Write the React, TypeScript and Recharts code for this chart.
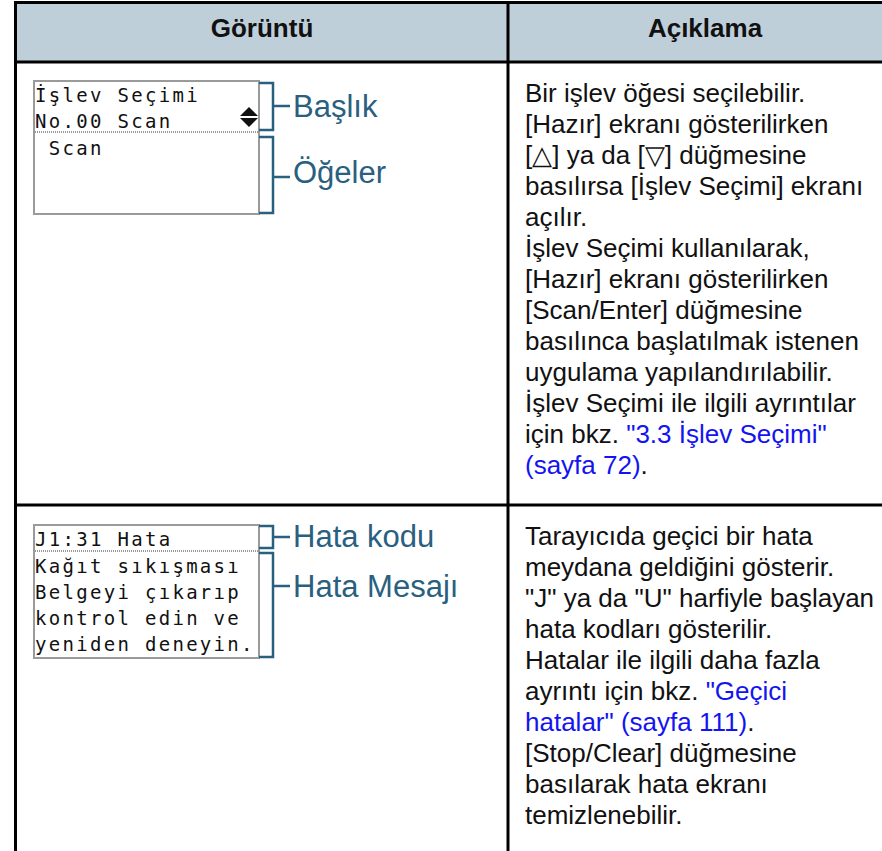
import { ComposedChart, Customized } from 'recharts'

// Başlık satırı ve iki tablo satırının içerikleri
const headerLabels = ['Görüntü', 'Açıklama']

const screenFunction = ['İşlev Seçimi', 'No.00 Scan', ' Scan']
const calloutsFunction = ['Başlık', 'Öğeler']

const screenError = ['J1:31 Hata', 'Kağıt sıkışması', 'Belgeyi çıkarıp', 'kontrol edin ve', 'yeniden deneyin.']
const calloutsError = ['Hata kodu', 'Hata Mesajı']

// {…} içindeki parçalar bağlantı (mavi) olarak çizilir
const descFunction = [
  'Bir işlev öğesi seçilebilir.',
  '[Hazır] ekranı gösterilirken',
  '[△] ya da [▽] düğmesine',
  'basılırsa [İşlev Seçimi] ekranı',
  'açılır.',
  'İşlev Seçimi kullanılarak,',
  '[Hazır] ekranı gösterilirken',
  '[Scan/Enter] düğmesine',
  'basılınca başlatılmak istenen',
  'uygulama yapılandırılabilir.',
  'İşlev Seçimi ile ilgili ayrıntılar',
  'için bkz. {"3.3 İşlev Seçimi"}',
  '{(sayfa 72)}.',
]

const descError = [
  'Tarayıcıda geçici bir hata',
  'meydana geldiğini gösterir.',
  '"J" ya da "U" harfiyle başlayan',
  'hata kodları gösterilir.',
  'Hatalar ile ilgili daha fazla',
  'ayrıntı için bkz. {"Geçici}',
  '{hatalar" (sayfa 111)}.',
  '[Stop/Clear] düğmesine',
  'basılarak hata ekranı',
  'temizlenebilir.',
]

const W = 882
const H = 851
const SANS = '"Liberation Sans", Arial, sans-serif'
const MONO = '"DejaVu Sans Mono", "Liberation Mono", monospace'
const CALLOUT = '#29607F'
const LINK = '#1414F0'

const COL_X = 508
const TEXT_X = 525
const LINE_H = 31

function splitLinks(line: string) {
  const parts: { text: string; link: boolean }[] = []
  const re = /\{([^}]*)\}/g
  let last = 0
  let m: RegExpExecArray | null
  while ((m = re.exec(line))) {
    if (m.index > last) parts.push({ text: line.slice(last, m.index), link: false })
    parts.push({ text: m[1], link: true })
    last = m.index + m[0].length
  }
  if (last < line.length) parts.push({ text: line.slice(last), link: false })
  return parts
}

function Description({ lines, top }: { lines: string[]; top: number }) {
  return (
    <g>
      {lines.map((line, i) => (
        <text
          key={i}
          x={TEXT_X}
          y={top + i * LINE_H}
          fontFamily={SANS}
          fontSize={26}
          fill="#111"
          style={{ whiteSpace: 'pre' }}
        >
          {splitLinks(line).map((p, j) => (
            <tspan key={j} fill={p.link ? LINK : undefined}>
              {p.text}
            </tspan>
          ))}
        </text>
      ))}
    </g>
  )
}

interface Bracket {
  top: number
  bottom: number
  tick: number
  baseline: number
}

function Screen({
  lines,
  baselines,
  boxTop,
  dotY,
  labels,
  brackets,
  arrows,
}: {
  lines: string[]
  baselines: number[]
  boxTop: number
  dotY: number
  labels: string[]
  brackets: Bracket[]
  arrows?: boolean
}) {
  const left = 34
  const right = 259
  return (
    <g>
      <rect x={left} y={boxTop} width={right - left} height={133} fill="#fff" stroke="#9a9a9a" strokeWidth={2} />
      <line x1={left + 1} x2={right - 1} y1={dotY} y2={dotY} stroke="#333" strokeWidth={1.2} strokeDasharray="1 1" />
      {lines.map((l, i) => (
        <text
          key={i}
          x={35}
          y={baselines[i]}
          fontFamily={MONO}
          fontSize={19}
          letterSpacing={2.3}
          fill="#111"
          style={{ whiteSpace: 'pre' }}
        >
          {l}
        </text>
      ))}
      {arrows && (
        <g fill="#111">
          <path d="M240 116 L249 107 L258 116 Z" />
          <path d="M240 118 L249 127 L258 118 Z" />
        </g>
      )}
      {brackets.map((b, i) => (
        <g key={i}>
          <path
            d={`M${right} ${b.top} H273 V${b.bottom} H${right}`}
            fill="none"
            stroke={CALLOUT}
            strokeWidth={2.5}
          />
          <line x1={273} x2={290} y1={b.tick} y2={b.tick} stroke={CALLOUT} strokeWidth={2.5} />
          <text x={293} y={b.baseline} fontFamily={SANS} fontSize={31} fill={CALLOUT}>
            {labels[i]}
          </text>
        </g>
      ))}
    </g>
  )
}

function TableLayer() {
  return (
    <g>
      <rect x={0} y={0} width={W} height={H} fill="#fff" />
      <rect x={15.5} y={2.5} width={900} height={62 - 2.5} fill="#BFCFD9" />
      {headerLabels.map((h, i) => (
        <text
          key={h}
          x={i === 0 ? 262 : 705}
          y={37}
          textAnchor="middle"
          fontFamily={SANS}
          fontWeight="bold"
          fontSize={26}
          fill="#111"
        >
          {h}
        </text>
      ))}

      <Screen
        lines={screenFunction}
        baselines={[102, 128, 155]}
        boxTop={81}
        dotY={132}
        labels={calloutsFunction}
        arrows
        brackets={[
          { top: 83, bottom: 130, tick: 106, baseline: 117 },
          { top: 137, bottom: 213, tick: 177, baseline: 183 },
        ]}
      />
      <Screen
        lines={screenError}
        baselines={[546, 573, 599, 625, 651]}
        boxTop={525}
        dotY={551}
        labels={calloutsError}
        brackets={[
          { top: 526, bottom: 548, tick: 537, baseline: 547 },
          { top: 553, bottom: 657, tick: 586, baseline: 597 },
        ]}
      />

      <Description lines={descFunction} top={102} />
      <Description lines={descError} top={545} />

      <g stroke="#000" strokeWidth={3} fill="none">
        <rect x={15.5} y={2.5} width={900} height={900} />
        <line x1={15.5} x2={W + 20} y1={62} y2={62} />
        <line x1={15.5} x2={W + 20} y1={505} y2={505} />
        <line x1={COL_X} x2={COL_X} y1={2.5} y2={H + 20} />
      </g>
    </g>
  )
}

export default function App() {
  return (
    <div style={{ width: W, height: H }}>
      <style>{'body{margin:0}'}</style>
      <ComposedChart width={W} height={H} data={descFunction.map((l) => ({ l }))} margin={{ top: 0, right: 0, bottom: 0, left: 0 }}>
        <Customized component={TableLayer} />
      </ComposedChart>
    </div>
  )
}
